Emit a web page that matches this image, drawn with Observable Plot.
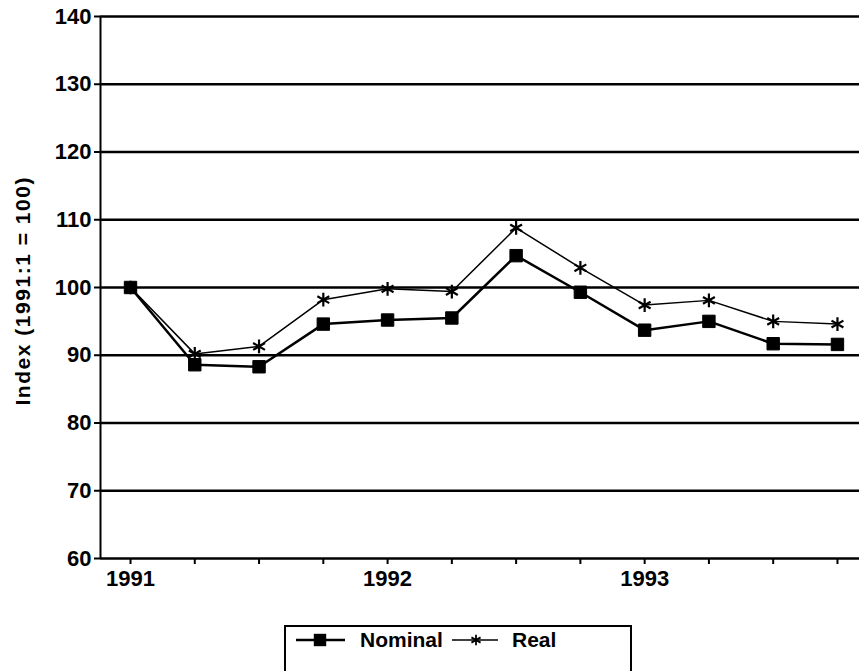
<!DOCTYPE html>
<html>
<head>
<meta charset="utf-8">
<script src="https://cdn.jsdelivr.net/npm/d3@7"></script>
<script src="https://cdn.jsdelivr.net/npm/@observablehq/plot@0.6"></script>
<style>
  html, body { margin: 0; padding: 0; background: #fff; overflow: hidden; }
  #wrap { position: relative; width: 859px; height: 671px; font-family: "Liberation Sans", Arial, Helvetica, sans-serif; font-weight: bold; }
  #legend { position: absolute; left: 284px; top: 625px; width: 348px; height: 70px; border: 2px solid #000; box-sizing: border-box; }
</style>
</head>
<body>
<div id="wrap"><div id="chart"></div><div id="legend"></div></div>
<script>
const quarters = ["1991:1","1991:2","1991:3","1991:4","1992:1","1992:2","1992:3","1992:4","1993:1","1993:2","1993:3","1993:4"];
const nominal = [100, 88.6, 88.3, 94.6, 95.2, 95.5, 104.7, 99.3, 93.7, 95.0, 91.7, 91.6];
const real    = [100, 90.2, 91.3, 98.2, 99.8, 99.4, 108.8, 102.9, 97.4, 98.1, 95.0, 94.6];
const yTicks = [60, 70, 80, 90, 100, 110, 120, 130, 140];
const seriesNames = ["Nominal", "Real"];
const yLabel = "Index (1991:1 = 100)";

const data = quarters.map((q, i) => ({i, q, nominal: nominal[i], real: real[i]}));
const xDomain = [-0.467, 11.343];

const chart = Plot.plot({
  width: 859,
  height: 600,
  marginLeft: 100,
  marginRight: 0,
  marginTop: 16,
  marginBottom: 42,
  style: {fontFamily: "'Liberation Sans', Arial, Helvetica, sans-serif", fontSize: "22px", fontWeight: "bold", background: "white", color: "black", overflow: "visible"},
  x: {type: "linear", domain: xDomain, ticks: d3.range(quarters.length),
      tickFormat: i => (i % 4 === 0 ? quarters[i].slice(0, 4) : ""), tickSize: 6, tickPadding: 6, label: null},
  y: {domain: [60, 140], ticks: yTicks, tickSize: 6, tickPadding: 3, label: null},
  marks: [
    Plot.ruleY(yTicks, {stroke: "black", strokeWidth: 2.5}),
    Plot.ruleX([xDomain[0]], {y1: 60, y2: 140, stroke: "black", strokeWidth: 2}),
    Plot.line(data, {x: "i", y: "real", stroke: "black", strokeWidth: 1.5}),
    Plot.dot(data, {x: "i", y: "real", symbol: "asterisk", r: 6.5, stroke: "black", strokeWidth: 2.2}),
    Plot.line(data, {x: "i", y: "nominal", stroke: "black", strokeWidth: 2.5}),
    Plot.dot(data, {x: "i", y: "nominal", symbol: "square", r: 7, fill: "black", stroke: "black", strokeWidth: 1}),
    Plot.text([yLabel], {frameAnchor: "left", textAnchor: "middle", rotate: -90, dx: -77, dy: 4, fontSize: 21, fontWeight: "bold", fill: "black"})
  ]
});
document.getElementById("chart").appendChild(chart);

const svg = d3.select(chart.tagName === "svg" ? chart : chart.querySelector("svg"));
svg.selectAll("[aria-label*='tick']").selectAll("path, line").attr("stroke-width", 2);
svg.selectAll("[aria-label*='tick']").filter(function(){ return this.tagName === "path" || this.tagName === "line"; }).attr("stroke-width", 2);
svg.selectAll("[aria-label*='axis']").attr("font-size", 22).attr("font-weight", "bold");
svg.selectAll("text").filter(function(){ return this.textContent === yLabel; })
   .attr("font-size", 21).attr("textLength", 228).attr("lengthAdjust", "spacing");

// legend
const lg = d3.select("#legend").append("svg").attr("width", 348).attr("height", 50)
  .style("position", "absolute").style("left", "-2px").style("top", "-2px");
const ly = 15;
const lf = "'Liberation Sans', Arial, sans-serif";
lg.append("line").attr("x1", 12).attr("x2", 61).attr("y1", ly).attr("y2", ly).attr("stroke", "black").attr("stroke-width", 2.5);
lg.append("path").attr("d", d3.symbol(d3.symbolSquare, Math.PI * 7 * 7)()).attr("transform", `translate(36,${ly})`).attr("fill", "black");
lg.append("text").attr("x", 76).attr("y", ly + 7).text(seriesNames[0])
  .attr("font-size", 21).attr("font-weight", "bold").attr("font-family", lf);
lg.append("line").attr("x1", 168).attr("x2", 214).attr("y1", ly).attr("y2", ly).attr("stroke", "black").attr("stroke-width", 1.5);
lg.append("path").attr("d", d3.symbol(d3.symbolAsterisk, Math.PI * 5 * 5)()).attr("transform", `translate(192,${ly})`)
  .attr("fill", "none").attr("stroke", "black").attr("stroke-width", 1.8);
lg.append("text").attr("x", 228).attr("y", ly + 7).text(seriesNames[1])
  .attr("font-size", 21).attr("font-weight", "bold").attr("font-family", lf);
</script>
</body>
</html>
